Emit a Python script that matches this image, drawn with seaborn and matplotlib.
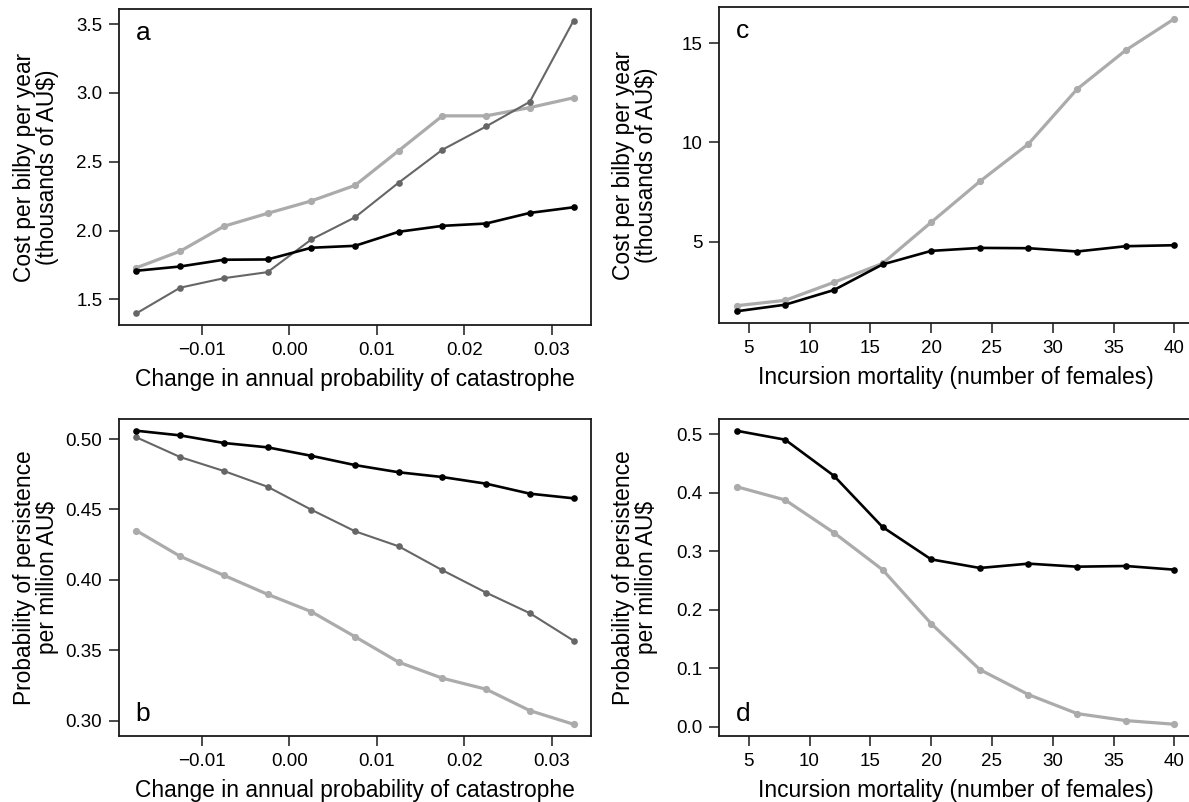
import numpy as np
import pandas as pd
import matplotlib
matplotlib.use("Agg")
import matplotlib.pyplot as plt
import seaborn as sns

# ---------------- data ----------------
catastrophe_change = [-0.0175, -0.0125, -0.0075, -0.0025, 0.0025, 0.0075,
                      0.0125, 0.0175, 0.0225, 0.0275, 0.0325]
cost_a_black = [1.708, 1.739, 1.788, 1.790, 1.875, 1.889, 1.991, 2.034, 2.051, 2.128, 2.169]
cost_a_dark = [1.399, 1.585, 1.654, 1.698, 1.935, 2.096, 2.348, 2.587, 2.756, 2.935, 3.524]
cost_a_light = [1.730, 1.850, 2.031, 2.125, 2.215, 2.328, 2.580, 2.833, 2.833, 2.893, 2.964]

pers_b_black = [0.5059, 0.5026, 0.4972, 0.4941, 0.4881, 0.4815, 0.4764, 0.4730, 0.4683, 0.4612, 0.4579]
pers_b_dark = [0.5012, 0.4872, 0.4773, 0.4661, 0.4498, 0.4345, 0.4238, 0.4068, 0.3909, 0.3763, 0.3568]
pers_b_light = [0.4349, 0.4167, 0.4032, 0.3897, 0.3774, 0.3596, 0.3415, 0.3301, 0.3223, 0.3071, 0.2974]

incursion_mortality = [4, 8, 12, 16, 20, 24, 28, 32, 36, 40]
cost_c_black = [1.482, 1.814, 2.553, 3.844, 4.528, 4.678, 4.663, 4.497, 4.764, 4.814]
cost_c_light = [1.764, 2.035, 2.940, 3.894, 5.970, 8.030, 9.925, 12.688, 14.648, 16.236]

pers_d_black = [0.5056, 0.4903, 0.4288, 0.3413, 0.2860, 0.2713, 0.2787, 0.2735, 0.2747, 0.2684]
pers_d_light = [0.4101, 0.3874, 0.3316, 0.2684, 0.1763, 0.0978, 0.0551, 0.0227, 0.0108, 0.0045]

xticks_ab = [-0.01, 0.0, 0.01, 0.02, 0.03]
xticklabels_ab = ["\u22120.01", "0.00", "0.01", "0.02", "0.03"]
yticks_a = [1.5, 2.0, 2.5, 3.0, 3.5]
yticklabels_a = ["1.5", "2.0", "2.5", "3.0", "3.5"]
yticks_b = [0.30, 0.35, 0.40, 0.45, 0.50]
yticklabels_b = ["0.30", "0.35", "0.40", "0.45", "0.50"]
xticks_cd = [5, 10, 15, 20, 25, 30, 35, 40]
yticks_c = [5, 10, 15]
yticks_d = [0.0, 0.1, 0.2, 0.3, 0.4, 0.5]

xlabel_ab = "Change in annual probability of catastrophe"
xlabel_cd = "Incursion mortality (number of females)"
ylabel_cost = "Cost per bilby per year\n(thousands of AU$)"
ylabel_pers = "Probability of persistence\nper million AU$"

# ---------------- style ----------------
sns.set_style("white")
plt.rcParams['font.family'] = ['Liberation Sans', 'DejaVu Sans']
plt.rcParams['axes.unicode_minus'] = True
plt.rcParams['text.color'] = 'black'
plt.rcParams['axes.labelcolor'] = 'black'
plt.rcParams['xtick.color'] = 'black'
plt.rcParams['ytick.color'] = 'black'
plt.rcParams['xtick.labelcolor'] = 'black'
plt.rcParams['ytick.labelcolor'] = 'black'

W, H = 1189, 802
fig = plt.figure(figsize=(W / 100, H / 100), dpi=100)

def px_axes(l, t, r, b):
    return fig.add_axes([l / W, 1 - b / H, (r - l) / W, (b - t) / H])

STY = {
    'black': dict(color='#000000', lw=1.9, ms=4.8),
    'dark': dict(color='#666666', lw=1.5, ms=4.8),
    'light': dict(color='#ababab', lw=2.3, ms=5.2),
}

def draw(ax, x, y, key):
    s = STY[key]
    df = pd.DataFrame({'x': x, 'y': y})
    sns.lineplot(data=df, x='x', y='y', ax=ax, color=s['color'], lw=s['lw'],
                 marker='o', markersize=s['ms'], markeredgewidth=0,
                 markerfacecolor=s['color'])

def style_axes(ax, xlabel, ylabel, letter, letter_top):
    for sp in ax.spines.values():
        sp.set_visible(True)
        sp.set_color('#1a1a1a')
        sp.set_linewidth(1.3)
    ax.tick_params(axis='both', which='both', direction='out', length=7, width=1.1,
                   color='#1a1a1a', labelcolor='black', labelsize=13.5, pad=5,
                   bottom=True, left=True, top=False, right=False)
    ax.set_xlabel(xlabel, fontsize=16.4, labelpad=7, color='black')
    ax.set_ylabel(ylabel, fontsize=16.4, linespacing=1.0, color='black')
    ax.yaxis.set_label_coords(-0.128, 0.5)
    ax.text(0.035, 0.925 if letter_top else 0.07, letter, transform=ax.transAxes,
            fontsize=19, ha='left', va='center', color='black')

def pad_lim(vals, frac=0.04):
    lo, hi = min(vals), max(vals)
    d = (hi - lo) * frac
    return lo - d, hi + d

# panel a
ax_a = px_axes(119, 9, 591, 325)
draw(ax_a, catastrophe_change, cost_a_light, 'light')
draw(ax_a, catastrophe_change, cost_a_dark, 'dark')
draw(ax_a, catastrophe_change, cost_a_black, 'black')
ax_a.set_xlim(*pad_lim(catastrophe_change))
ax_a.set_ylim(*pad_lim(cost_a_black + cost_a_dark + cost_a_light))
ax_a.set_xticks(xticks_ab)
ax_a.set_xticklabels(xticklabels_ab)
ax_a.set_yticks(yticks_a)
ax_a.set_yticklabels(yticklabels_a)
style_axes(ax_a, xlabel_ab, ylabel_cost, 'a', True)

# panel b
ax_b = px_axes(119, 419, 591, 736)
draw(ax_b, catastrophe_change, pers_b_light, 'light')
draw(ax_b, catastrophe_change, pers_b_dark, 'dark')
draw(ax_b, catastrophe_change, pers_b_black, 'black')
ax_b.set_xlim(*pad_lim(catastrophe_change))
ax_b.set_ylim(*pad_lim(pers_b_black + pers_b_dark + pers_b_light))
ax_b.set_xticks(xticks_ab)
ax_b.set_xticklabels(xticklabels_ab)
ax_b.set_yticks(yticks_b)
ax_b.set_yticklabels(yticklabels_b)
style_axes(ax_b, xlabel_ab, ylabel_pers, 'b', False)

# panel c
ax_c = px_axes(719, 7, 1192, 323)
draw(ax_c, incursion_mortality, cost_c_light, 'light')
draw(ax_c, incursion_mortality, cost_c_black, 'black')
ax_c.set_xlim(*pad_lim(incursion_mortality))
ax_c.set_ylim(*pad_lim(cost_c_black + cost_c_light))
ax_c.set_xticks(xticks_cd)
ax_c.set_yticks(yticks_c)
style_axes(ax_c, xlabel_cd, ylabel_cost, 'c', True)

# panel d
ax_d = px_axes(719, 419, 1192, 736)
draw(ax_d, incursion_mortality, pers_d_light, 'light')
draw(ax_d, incursion_mortality, pers_d_black, 'black')
ax_d.set_xlim(*pad_lim(incursion_mortality))
ax_d.set_ylim(*pad_lim(pers_d_black + pers_d_light))
ax_d.set_xticks(xticks_cd)
ax_d.set_yticks(yticks_d)
style_axes(ax_d, xlabel_cd, ylabel_pers, 'd', False)

fig.savefig("out.png", dpi=100)
